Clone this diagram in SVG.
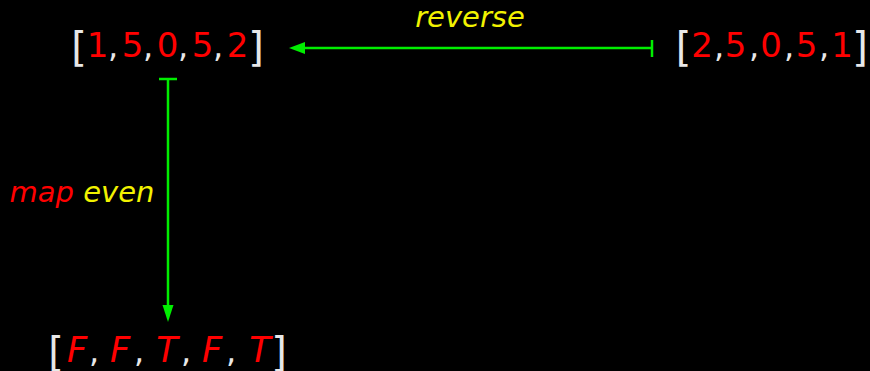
<svg xmlns="http://www.w3.org/2000/svg" width="870" height="371" viewBox="0 0 870 371">
<style>
text{font-family:"DejaVu Sans","Liberation Sans",sans-serif;text-anchor:middle}
.br{fill:#e8e8e8;font-size:40px}
.d{fill:#ff0000;font-size:34px}
.c{fill:#e8e8e8;font-size:32px}
.it{font-style:italic;font-size:35px;fill:#ff0000}
.lbl{font-style:italic;font-size:29px}
.y{fill:#f2f200}
.r{fill:#ff0000}
.ln{stroke:#00ee00;stroke-width:2.5;fill:none}
.hd{fill:#00ee00}
</style>
<rect width="870" height="371" fill="#000"/>
<g id="list-a">
<text class="br" x="79" y="61">[</text>
<text class="d" x="97.5" y="57">1</text><text class="c" x="113" y="57">,</text>
<text class="d" x="132.5" y="57">5</text><text class="c" x="148" y="57">,</text>
<text class="d" x="167.5" y="57">0</text><text class="c" x="183" y="57">,</text>
<text class="d" x="202.5" y="57">5</text><text class="c" x="218" y="57">,</text>
<text class="d" x="237.5" y="57">2</text>
<text class="br" x="256" y="61">]</text>
</g>
<g id="list-b">
<text class="br" x="683.5" y="61">[</text>
<text class="d" x="702" y="57">2</text><text class="c" x="719" y="57">,</text>
<text class="d" x="735.5" y="57">5</text><text class="c" x="754" y="57">,</text>
<text class="d" x="771" y="57">0</text><text class="c" x="789" y="57">,</text>
<text class="d" x="806.5" y="57">5</text><text class="c" x="824" y="57">,</text>
<text class="d" x="842" y="57">1</text>
<text class="br" x="860" y="61">]</text>
</g>
<g id="list-c">
<text class="br" x="56" y="366">[</text>
<text class="it" x="77" y="362">F</text><text class="c" x="94" y="362">,</text>
<text class="it" x="120" y="362">F</text><text class="c" x="139" y="362">,</text>
<text class="it" x="167" y="362">T</text><text class="c" x="186" y="362">,</text>
<text class="it" x="212" y="362">F</text><text class="c" x="231" y="362">,</text>
<text class="it" x="260" y="362">T</text>
<text class="br" x="279" y="366">]</text>
</g>
<g id="connectors">
<line class="ln" x1="652" y1="48" x2="303" y2="48"/>
<line class="ln" x1="652" y1="40" x2="652" y2="57"/>
<polygon class="hd" points="289,48 305,42 305,54"/>
<line class="ln" x1="168" y1="79" x2="168" y2="307"/>
<line class="ln" x1="159" y1="79" x2="177" y2="79"/>
<polygon class="hd" points="168,322 162.5,305 173.5,305"/>
</g>
<g id="labels">
<text class="lbl y" x="470" y="27">reverse</text>
<text class="lbl" x="82" y="202"><tspan class="r">map</tspan> <tspan class="y">even</tspan></text>
</g>
</svg>
